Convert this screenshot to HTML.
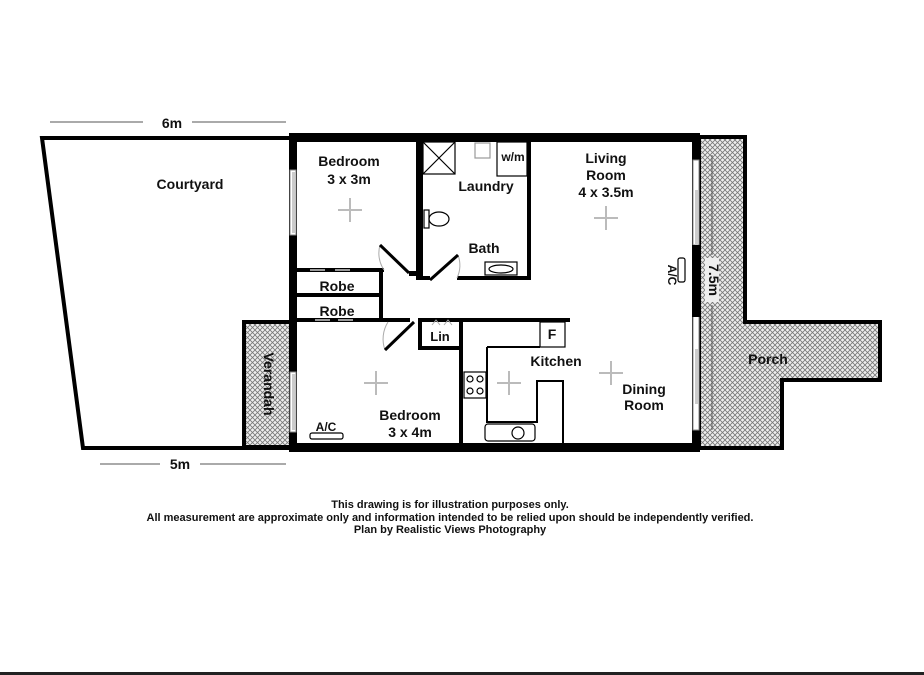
<!DOCTYPE html>
<html><head><meta charset="utf-8"><style>
html,body{margin:0;padding:0;background:#fff}
svg{display:block}
text{font-family:"Liberation Sans",Arial,sans-serif;font-weight:bold;fill:#111}
</style></head><body>
<svg width="924" height="675" viewBox="0 0 924 675" xmlns="http://www.w3.org/2000/svg">
<defs>
<pattern id="h" width="5" height="5" patternUnits="userSpaceOnUse">
<rect width="5" height="5" fill="#eee"/>
<path d="M0 0L5 5M5 0L0 5" stroke="#777" stroke-width="0.8"/>
</pattern>
<g id="fan" stroke="#bbb" stroke-width="2" fill="none">
<line x1="-12" y1="0" x2="12" y2="0"/><line x1="0" y1="-12" x2="0" y2="12"/>
</g>
</defs>
<g stroke="#555" stroke-width="1">
<line x1="50" y1="122" x2="143" y2="122"/><line x1="192" y1="122" x2="286" y2="122"/>
<line x1="100" y1="464" x2="160" y2="464"/><line x1="200" y1="464" x2="286" y2="464"/>
</g>
<text x="172" y="128" font-size="14" text-anchor="middle">6m</text>
<text x="180" y="469" font-size="14" text-anchor="middle">5m</text>
<polygon points="42,138 291,138 291,448 83,448" fill="#fff" stroke="#000" stroke-width="4"/>
<rect x="244" y="322" width="47" height="125" fill="url(#h)" stroke="#000" stroke-width="4"/>
<polygon points="699,137 745,137 745,322 880,322 880,380 782,380 782,448 699,448" fill="url(#h)" stroke="#000" stroke-width="4"/>
<line x1="712" y1="155" x2="712" y2="255" stroke="#555"/><line x1="712" y1="305" x2="712" y2="430" stroke="#555"/>
<rect x="293" y="138" width="403" height="310" fill="#fff"/>
<g fill="#000">
<rect x="289" y="133" width="411" height="9"/>
<rect x="289" y="443" width="411" height="9"/>
<rect x="289" y="133" width="8" height="319"/>
<rect x="692" y="133" width="8" height="319"/>
</g>
<g fill="#fff" stroke="#888" stroke-width="1">
<rect x="290" y="170" width="6" height="65"/>
<rect x="290" y="372" width="6" height="60"/>
<rect x="693" y="160" width="6" height="85"/>
<rect x="693" y="315" width="6" height="115"/>
</g>
<g fill="#ccc"><rect x="292" y="172" width="3" height="61"/><rect x="292" y="374" width="3" height="56"/>
<rect x="695" y="190" width="3" height="55"/><rect x="695" y="349" width="3" height="55"/></g>
<rect x="692" y="245" width="8" height="72" fill="#000"/>
<g fill="#000">
<rect x="296" y="268" width="88" height="4"/>
<rect x="296" y="293" width="84" height="4"/>
<rect x="296" y="318" width="114" height="4"/>
<rect x="379" y="268" width="4" height="54"/>
<rect x="416" y="138" width="4" height="142"/>
<rect x="409" y="271" width="11" height="5"/>
<rect x="420" y="138" width="3" height="142"/>
<rect x="420" y="276" width="10" height="4"/>
<rect x="457" y="276" width="74" height="4"/>
<rect x="527" y="138" width="4" height="142"/>
<rect x="418" y="318" width="152" height="4"/>
<rect x="418" y="318" width="4" height="32"/>
<rect x="418" y="346" width="45" height="4"/>
<rect x="459" y="318" width="4" height="130"/>
</g>
<g fill="none" stroke="#000" stroke-width="1.2">
<rect x="423" y="142" width="32" height="32"/>
<path d="M423 142L455 174M455 142L423 174"/>
<rect x="497" y="142" width="30" height="34"/>
<rect x="475" y="143" width="15" height="15" stroke="#999"/>
<rect x="485" y="262" width="32" height="13"/>
<ellipse cx="501" cy="269" rx="12" ry="4"/>
<ellipse cx="439" cy="219" rx="10" ry="7"/>
<rect x="424" y="210" width="5" height="18"/>
<rect x="540" y="322" width="25" height="25"/>
<polyline points="487,347 540,347" stroke-width="2"/>
<polyline points="487,347 487,422 537,422 537,381 563,381 563,445" stroke-width="2"/>
<rect x="485" y="424" width="50" height="17" rx="3"/>
<circle cx="518" cy="433" r="6"/>
<rect x="464" y="372" width="22" height="26"/>
<circle cx="470" cy="379" r="3"/><circle cx="480" cy="379" r="3"/>
<circle cx="470" cy="391" r="3"/><circle cx="480" cy="391" r="3"/>
<rect x="310" y="433" width="33" height="6" rx="2"/>
<rect x="678" y="258" width="7" height="24" rx="2"/>
</g>
<g stroke="#aaa" stroke-width="1" fill="none">
<path d="M380 245 A30 30 0 0 0 384 270"/>
<path d="M458 255 A30 30 0 0 1 457 278"/>
<path d="M385 350 A32 32 0 0 1 388 322"/>
<path d="M432 325 l4 -5 4 5M444 325 l4 -5 4 5"/>
</g>
<g fill="#999"><rect x="310" y="269" width="15" height="2"/><rect x="335" y="269" width="15" height="2"/>
<rect x="315" y="319" width="15" height="2"/><rect x="338" y="319" width="15" height="2"/></g>
<g stroke="#000" stroke-width="3">
<line x1="380" y1="245" x2="409" y2="273"/>
<line x1="430" y1="280" x2="458" y2="255"/>
<line x1="385" y1="350" x2="414" y2="322"/>
</g>
<use href="#fan" x="350" y="210"/>
<use href="#fan" x="606" y="218"/>
<use href="#fan" x="376" y="383"/>
<use href="#fan" x="509" y="383"/>
<use href="#fan" x="611" y="373"/>
<g font-size="14" text-anchor="middle">
<text x="190" y="189">Courtyard</text>
<text x="349" y="166">Bedroom</text><text x="349" y="184">3 x 3m</text>
<text x="486" y="191">Laundry</text>
<text x="484" y="253">Bath</text>
<text x="337" y="291">Robe</text>
<text x="337" y="316">Robe</text>
<text x="440" y="341" font-size="13">Lin</text>
<text x="556" y="366">Kitchen</text>
<text x="552" y="339" font-weight="normal">F</text>
<text x="513" y="161" font-size="12">w/m</text>
<text x="606" y="163">Living</text><text x="606" y="180">Room</text><text x="606" y="197">4 x 3.5m</text>
<text x="644" y="394">Dining</text><text x="644" y="410">Room</text>
<text x="410" y="420">Bedroom</text><text x="410" y="437">3 x 4m</text>
<text x="768" y="364">Porch</text>
<text x="326" y="431" font-size="12">A/C</text>
<text x="450" y="508" font-size="11" font-weight="normal">This drawing is for illustration purposes only.</text>
<text x="450" y="521" font-size="11" font-weight="normal">All measurement are approximate only and information intended to be relied upon should be independently verified.</text>
<text x="450" y="533" font-size="11" font-weight="normal">Plan by Realistic Views Photography</text>
</g>
<text font-size="14" text-anchor="middle" transform="translate(264,384) rotate(90)">Verandah</text>
<rect x="705" y="258" width="14" height="44" fill="#eee"/>
<text font-size="14" text-anchor="middle" transform="translate(709,280) rotate(90)">7.5m</text>
<text font-size="12" text-anchor="middle" transform="translate(668,275) rotate(90)">A/C</text>
<rect x="0" y="672" width="924" height="3" fill="#222"/>
</svg>
</body></html>
